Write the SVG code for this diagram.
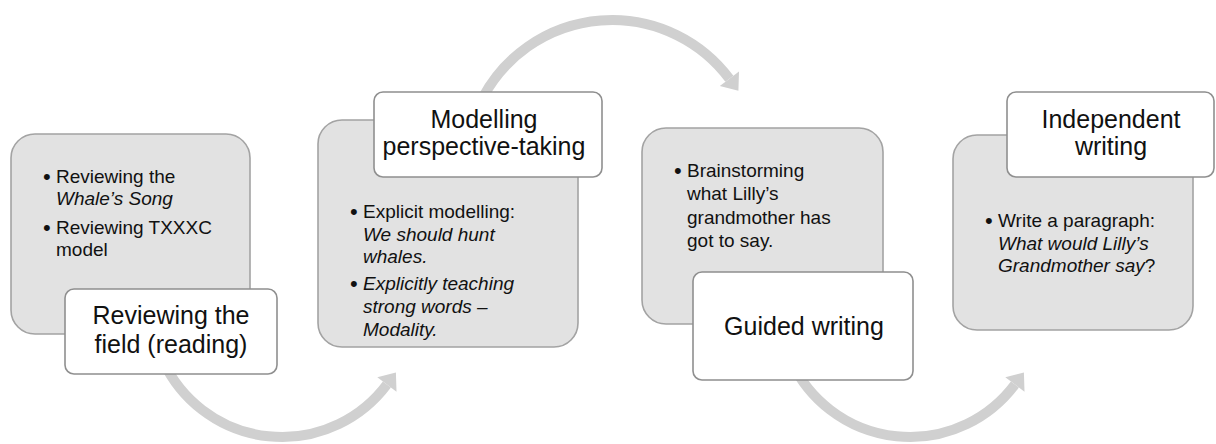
<svg xmlns="http://www.w3.org/2000/svg" width="1216" height="444" viewBox="0 0 1216 444">
<style>
.card{fill:#e2e2e2;stroke:#a3a3a3;stroke-width:1.6}
.label{fill:#ffffff;stroke:#8f8f8f;stroke-width:1.6}
.body{font-family:"Liberation Sans",Arial,sans-serif;font-size:19px;fill:#111}
.bul{font-family:"Liberation Sans",Arial,sans-serif;font-size:22px;fill:#111}
.head{font-family:"Liberation Sans",Arial,sans-serif;font-size:25px;fill:#111;text-anchor:middle}
.it{font-style:italic}
.arc{fill:none;stroke:#d0d0d0;stroke-width:10}
.head-arrow{fill:#d0d0d0}
</style>
<rect width="1216" height="444" fill="#ffffff"/>
<g id="connectors">
<path class="arc" d="M 163.3 361.4 A 131 131 0 0 0 386.9 384.5"/>
<polygon class="head-arrow" points="377.3,377.3 396.5,391.7 395.9,372.5"/>
<path class="arc" d="M 482.6 97.8 A 146.6 146.6 0 0 1 729.4 78.8"/>
<polygon class="head-arrow" points="739,71.6 719.8,86 738.4,90.8"/>
<path class="arc" d="M 791.3 361.4 A 131 131 0 0 0 1014.9 384.5"/>
<polygon class="head-arrow" points="1005.3,377.3 1024.5,391.7 1023.9,372.5"/>
</g>
<g id="node1">
<rect class="card" x="11" y="134" width="239" height="200" rx="24"/>
<text class="bul" x="43" y="184">•</text>
<text class="body" x="56" y="183">Reviewing the</text>
<text class="body it" x="56" y="205">Whale’s Song</text>
<text class="bul" x="43" y="235">•</text>
<text class="body" x="56" y="234">Reviewing TXXXC</text>
<text class="body" x="56" y="256">model</text>
<rect class="label" x="65" y="289" width="212" height="85" rx="9"/>
<text class="head" x="171" y="324">Reviewing the</text>
<text class="head" x="171" y="353">field (reading)</text>
</g>
<g id="node2">
<rect class="card" x="318" y="120" width="260" height="227" rx="24"/>
<text class="bul" x="350" y="219">•</text>
<text class="body" x="363" y="218">Explicit modelling:</text>
<text class="body it" x="363" y="241">We should hunt</text>
<text class="body it" x="363" y="263">whales.</text>
<text class="bul" x="350" y="291">•</text>
<text class="body it" x="363" y="290">Explicitly teaching</text>
<text class="body it" x="363" y="313">strong words –</text>
<text class="body it" x="363" y="336">Modality.</text>
<rect class="label" x="374" y="92" width="228" height="85" rx="9"/>
<text class="head" x="484" y="128">Modelling</text>
<text class="head" x="484" y="155">perspective-taking</text>
</g>
<g id="node3">
<rect class="card" x="642" y="128" width="241" height="196" rx="24"/>
<text class="bul" x="674" y="178">•</text>
<text class="body" x="687" y="177">Brainstorming</text>
<text class="body" x="687" y="200">what Lilly’s</text>
<text class="body" x="687" y="224">grandmother has</text>
<text class="body" x="687" y="247">got to say.</text>
<rect class="label" x="693" y="272" width="220" height="108" rx="9"/>
<text class="head" x="804" y="335">Guided writing</text>
</g>
<g id="node4">
<rect class="card" x="953" y="135" width="240" height="195" rx="24"/>
<text class="bul" x="985" y="228">•</text>
<text class="body" x="998" y="227">Write a paragraph:</text>
<text class="body it" x="998" y="250">What would Lilly’s</text>
<text class="body" x="998" y="272"><tspan class="it">Grandmother say</tspan>?</text>
<rect class="label" x="1007" y="92" width="207" height="85" rx="9"/>
<text class="head" x="1111" y="128">Independent</text>
<text class="head" x="1111" y="155">writing</text>
</g>
</svg>
